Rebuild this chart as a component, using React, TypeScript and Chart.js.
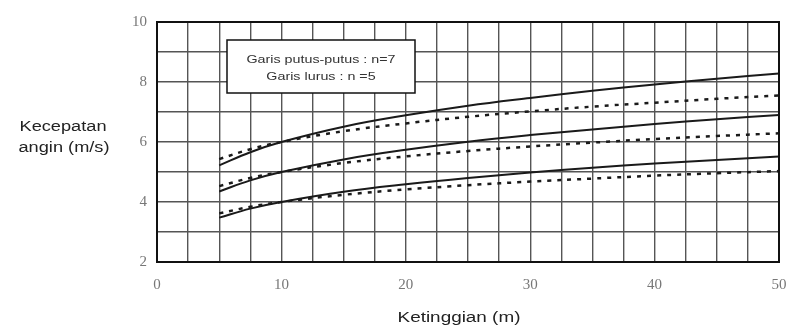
import React, { useEffect, useRef } from "react";
import { Chart, registerables } from "chart.js";

Chart.register(...registerables);

const heights = [5, 7.5, 10, 15, 20, 25, 30, 35, 40, 45, 50];
const upperSolid = [5.22, 5.66, 6.0, 6.51, 6.89, 7.21, 7.47, 7.71, 7.92, 8.11, 8.28];
const upperDashed = [5.43, 5.76, 6.0, 6.36, 6.62, 6.84, 7.02, 7.18, 7.31, 7.44, 7.55];
const middleSolid = [4.35, 4.72, 5.0, 5.42, 5.74, 6.01, 6.23, 6.42, 6.6, 6.76, 6.9];
const middleDashed = [4.53, 4.8, 5.0, 5.3, 5.52, 5.7, 5.85, 5.98, 6.1, 6.2, 6.29];
const lowerSolid = [3.48, 3.78, 4.0, 4.34, 4.59, 4.8, 4.98, 5.14, 5.28, 5.4, 5.52];
const lowerDashed = [3.62, 3.84, 4.0, 4.24, 4.42, 4.56, 4.68, 4.78, 4.88, 4.96, 5.03];

const xTitle = "Ketinggian (m)";
const yTitleLines = ["Kecepatan", "angin (m/s)"];
const legendLines = ["Garis putus-putus : n=7", "Garis lurus : n =5"];

const toPts = (ys: number[]) => heights.map((x, i) => ({ x, y: ys[i] }));

function drawText(ctx: any, text: string, cx: number, cy: number, font: string, sx: number) {
  ctx.save();
  ctx.font = font;
  ctx.textAlign = "center";
  ctx.textBaseline = "middle";
  ctx.translate(cx, cy);
  ctx.scale(sx, 1);
  ctx.fillText(text, 0, 0);
  ctx.restore();
}

export default function App() {
  const ref = useRef<HTMLCanvasElement | null>(null);
  useEffect(() => {
    if (!ref.current) return;
    const solid = (d: number[]) => ({
      data: toPts(d),
      borderColor: "#1a1a1a",
      borderWidth: 2,
      pointRadius: 0,
      tension: 0.4,
      fill: false,
    });
    const dashed = (d: number[]) => ({
      data: toPts(d),
      borderColor: "#1a1a1a",
      borderWidth: 2.5,
      borderDash: [4, 6],
      pointRadius: 0,
      tension: 0.4,
      fill: false,
    });
    const annot = {
      id: "annot",
      afterDraw(chart: any) {
        const ctx = chart.ctx;
        const a = chart.chartArea;
        ctx.save();
        const bx = 227, by = 40, bw = 188, bh = 53;
        ctx.fillStyle = "#fff";
        ctx.fillRect(bx, by, bw, bh);
        ctx.strokeStyle = "#111";
        ctx.lineWidth = 1.5;
        ctx.strokeRect(bx, by, bw, bh);
        ctx.fillStyle = "#333";
        const lf = "11px 'Liberation Sans', Arial, sans-serif";
        drawText(ctx, legendLines[0], bx + bw / 2, 60, lf, 1.3);
        drawText(ctx, legendLines[1], bx + bw / 2, 77, lf, 1.3);
        const tf = "14px 'Liberation Sans', Arial, sans-serif";
        ctx.fillStyle = "#222";
        drawText(ctx, xTitle, 459, 318, tf, 1.35);
        drawText(ctx, yTitleLines[0], 63, 127, tf, 1.3);
        drawText(ctx, yTitleLines[1], 64, 148, tf, 1.3);
        ctx.strokeStyle = "#111";
        ctx.lineWidth = 2;
        ctx.strokeRect(a.left, a.top, a.right - a.left, a.bottom - a.top);
        ctx.restore();
      },
    };
    const chart = new Chart(ref.current, {
      type: "line",
      data: {
        datasets: [
          solid(upperSolid),
          dashed(upperDashed),
          solid(middleSolid),
          dashed(middleDashed),
          solid(lowerSolid),
          dashed(lowerDashed),
        ],
      },
      options: {
        animation: false,
        responsive: false,
        layout: { padding: { left: 0, right: 8, top: 22, bottom: 0 } },
        plugins: { legend: { display: false }, tooltip: { enabled: false } },
        scales: {
          x: {
            type: "linear",
            min: 0,
            max: 50,
            afterFit: (s: any) => {
              s.height = 65;
              s.paddingRight = 0;
              s.paddingLeft = 0;
            },
            ticks: {
              stepSize: 2.5,
              autoSkip: false,
              maxRotation: 0,
              padding: 14,
              color: "#777",
              font: { family: "'Liberation Serif', serif", size: 15 },
              callback: (v: any) => (Number(v) % 10 === 0 ? String(v) : ""),
            },
            grid: { color: "#555", lineWidth: 1.4, drawTicks: false },
            border: { display: false },
          },
          y: {
            min: 2,
            max: 10,
            afterFit: (s: any) => {
              s.width = 157;
              s.paddingTop = 0;
              s.paddingBottom = 0;
            },
            ticks: {
              stepSize: 1,
              autoSkip: false,
              padding: 10,
              color: "#777",
              font: { family: "'Liberation Serif', serif", size: 15 },
              callback: (v: any) => (Number(v) % 2 === 0 ? String(v) : ""),
            },
            grid: { color: "#555", lineWidth: 1.4, drawTicks: false },
            border: { display: false },
          },
        },
      },
      plugins: [annot],
    });
    return () => chart.destroy();
  }, []);
  return (
    <div style={{ position: "absolute", left: 0, top: 0, width: 787, height: 327, background: "#fff" }}>
      <canvas ref={ref} width={787} height={327} />
    </div>
  );
}
